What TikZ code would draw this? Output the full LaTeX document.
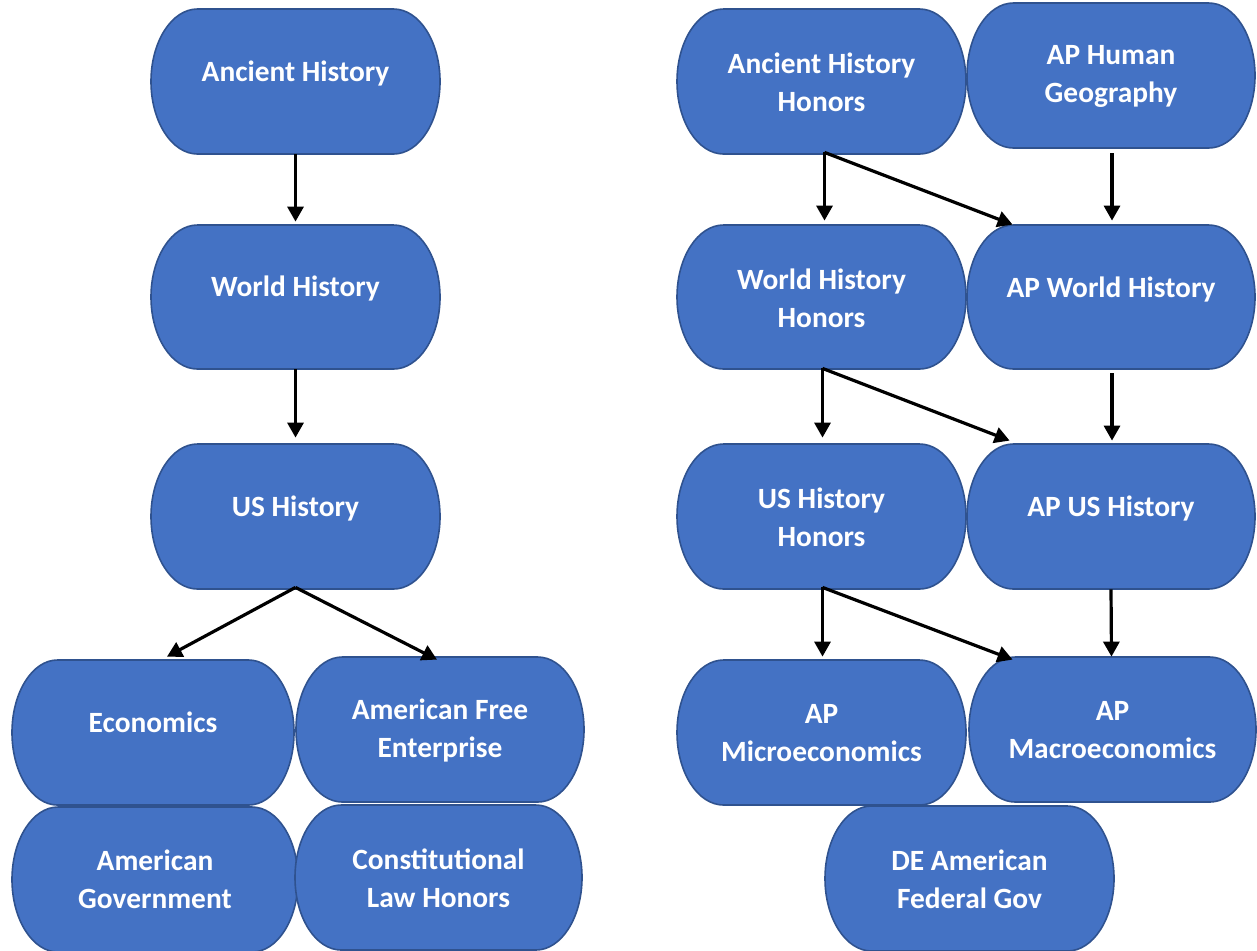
\documentclass[tikz,border=0pt]{standalone}
\usepackage{fontspec}
\setmainfont{Carlito}
\usetikzlibrary{arrows.meta}
\definecolor{boxblue}{HTML}{4472C4}
\definecolor{boxedge}{HTML}{2F528F}
\tikzset{
  tshape/.style={fill=boxblue, draw=boxedge, line width=0.8pt},
  tnode/.style={rectangle, inner sep=0pt, draw=none},
  ttext/.style={text=white, font=\bfseries\fontsize{14.7}{19}\selectfont, align=center, inner sep=0pt},
  arr/.style={line width=1.6pt, -{Triangle[length=7.5pt,width=8pt]}}
}
\newcommand\tbox[7]{%
  \pgfmathsetmacro\tbrx{0.161*(#4-#2)}%
  \pgfmathsetmacro\tbry{(#5-#3)/2}%
  \pgfmathsetmacro\tbw{(#4-#2)*0.5}%
  \pgfmathsetmacro\tbh{(#5-#3)*0.5}%
  \path[tshape] ({#2+\tbrx},-#3) -- ({#4-\tbrx},-#3)
    arc[start angle=90,end angle=-90,x radius=\tbrx,y radius=\tbry]
    -- ({#2+\tbrx},-#5)
    arc[start angle=270,end angle=90,x radius=\tbrx,y radius=\tbry] -- cycle;
  \node[tnode, minimum width=\tbw pt, minimum height=\tbh pt] (#1) at ({(#2+#4)/2},{-(#3+#5)/2}) {};
  \node[ttext] (#1-t) at ({(#2+#4)/2},{-(#6+2)}) {#7};
}
\begin{document}
\begin{tikzpicture}[x=0.5pt,y=0.5pt]
\useasboundingbox (0,0) rectangle (1257,-950);
\clip (0,0) rectangle (1257,-950);
% left column
\tbox{ah}{151}{9}{440}{154}{71}{Ancient History}
\tbox{wh}{151}{225}{440}{369}{286}{World History}
\tbox{us}{151}{444}{440}{589}{506}{US History}
\tbox{econ}{12}{660}{294}{805}{720}{Economics}
\tbox{afe}{296}{657}{584}{802}{728}{American Free\\Enterprise}
\tbox{ag}{12}{807}{298}{952}{877}{American\\Government}
\tbox{clh}{295}{805}{582}{950}{876}{Constitutional\\Law Honors}
% right column
\tbox{ahh}{677}{9}{966}{154}{80}{Ancient History\\Honors}
\tbox{aphg}{967}{3}{1255}{148}{74}{AP Human\\Geography}
\tbox{whh}{677}{225}{966}{369}{296}{World History\\Honors}
\tbox{apwh}{967}{225}{1255}{369}{287}{AP World History}
\tbox{ushh}{677}{444}{966}{589}{515}{US History\\Honors}
\tbox{apus}{967}{444}{1255}{589}{506}{AP US History}
\tbox{apmi}{677}{660}{966}{805}{731}{AP\\Microeconomics}
\tbox{apma}{969}{657}{1256}{802}{728}{AP\\Macroeconomics}
\tbox{de}{825}{806}{1114}{951}{877}{DE American\\Federal Gov}
% arrows left
\draw[arr] (ah.south) -- ([yshift=1.5pt]wh.north);
\draw[arr] (wh.south) -- ([yshift=3pt]us.north);
\draw[arr] ([yshift=1pt]us.south) -- ([xshift=7pt,yshift=1.5pt]econ.north);
\draw[arr] ([yshift=1pt]us.south) -- ([xshift=-1.5pt,yshift=-1.5pt]afe.north);
% arrows right
\draw[arr] ([xshift=1.5pt,yshift=1pt]ahh.south) -- ([xshift=1.5pt,yshift=2pt]whh.north);
\draw[arr] ([xshift=1.5pt,yshift=1pt]ahh.south) -- ([xshift=23pt]apwh.north west);
\draw[arr] ([xshift=0.5pt,yshift=-2.5pt]aphg.south) -- ([xshift=0.5pt,yshift=2pt]apwh.north);
\draw[arr] ([xshift=0.5pt,yshift=0.5pt]whh.south) -- ([xshift=0.5pt,yshift=3pt]ushh.north);
\draw[arr] ([xshift=0.5pt,yshift=0.5pt]whh.south) -- ([xshift=21.5pt,yshift=1.5pt]apus.north west);
\draw[arr] ([xshift=0.5pt,yshift=-2pt]apwh.south) -- ([xshift=0.5pt,yshift=1.5pt]apus.north);
\draw[arr] ([xshift=0.5pt,yshift=1pt]ushh.south) -- ([xshift=0.5pt,yshift=1.5pt]apmi.north);
\draw[arr] ([xshift=0.5pt,yshift=1pt]ushh.south) -- ([xshift=22pt,yshift=-1.5pt]apma.north west);
\draw[arr] (apus.south) -- ([xshift=-0.5pt]apma.north);
\end{tikzpicture}
\end{document}
